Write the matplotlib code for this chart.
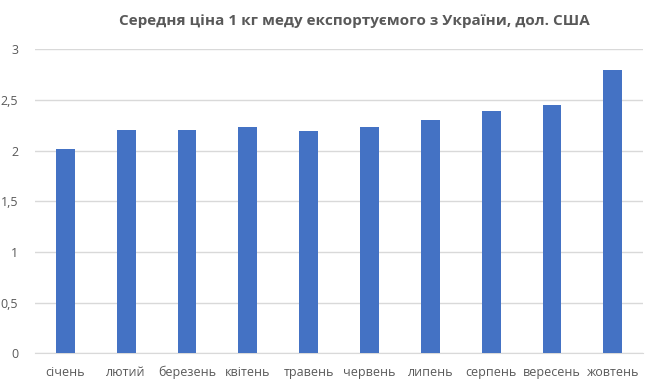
import matplotlib.pyplot as plt
from matplotlib.ticker import FuncFormatter

plt.rcParams['font.family'] = ['Open Sans', 'DejaVu Sans']

місяці = ['січень', 'лютий', 'березень', 'квітень', 'травень', 'червень',
          'липень', 'серпень', 'вересень', 'жовтень']
ціна = [2.02, 2.20, 2.20, 2.23, 2.19, 2.23, 2.30, 2.39, 2.45, 2.80]

fig = plt.figure(figsize=(6.59, 3.89), dpi=100)
ax = fig.add_axes([0.053, 0.092, 0.923, 0.781])

ax.bar(range(len(місяці)), ціна, width=0.31, color='#4472C4', zorder=3)
ax.set_xlim(-0.5, len(місяці) - 0.5)
ax.set_ylim(0, 3)
ax.set_yticks([0, 0.5, 1, 1.5, 2, 2.5, 3])
ax.yaxis.set_major_formatter(FuncFormatter(lambda v, p: f'{v:g}'.replace('.', ',')))
ax.set_xticks(range(len(місяці)))
ax.set_xticklabels(місяці)
ax.grid(axis='y', color='#D9D9D9', linewidth=1, zorder=0)
for s in ['top', 'right', 'left']:
    ax.spines[s].set_visible(False)
ax.spines['bottom'].set_color('#D9D9D9')
ax.tick_params(axis='both', length=0, colors='#595959', labelsize=9)
ax.tick_params(axis='x', pad=9)
ax.tick_params(axis='y', pad=12)

fig.text(0.537, 0.945, 'Середня ціна 1 кг меду експортуємого з України, дол. США',
         ha='center', va='center', fontsize=11, fontweight='bold', color='#595959')

fig.savefig('out.png', dpi=100)
